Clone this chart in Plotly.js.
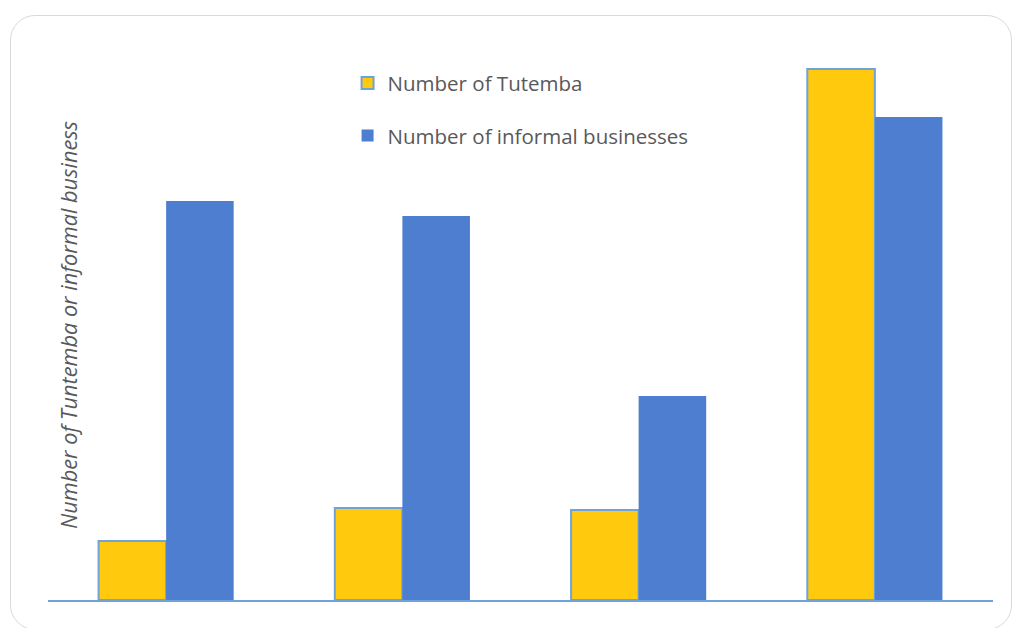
<!DOCTYPE html>
<html>
<head>
<meta charset="utf-8">
<script src="https://cdn.plot.ly/plotly-3.0.1.min.js"></script>
<style>
  html, body { margin: 0; padding: 0; background: #ffffff; }
  #wrap { position: relative; width: 1014px; height: 628px; overflow: hidden; }
  #frame { position: absolute; left: 10px; top: 15px; width: 1002px; height: 615px;
           border: 1.5px solid #d9d9d9; border-radius: 25px; box-sizing: border-box; pointer-events: none; }
  #chart { position: absolute; left: 0; top: 0; width: 1014px; height: 628px; }
</style>
</head>
<body>
<div id="wrap">
  <div id="frame"></div>
  <div id="chart"></div>
</div>
<script>
const categories = ["Area 1", "Area 2", "Area 3", "Area 4"];
const tutemba = [59, 92, 90, 531];
const informal = [399, 384, 204, 483];
const seriesNames = ["Number of Tutemba", "Number of informal businesses"];
const yTitle = "Number of Tuntemba or informal business";

const traces = [
  {
    type: "bar", name: seriesNames[0], x: categories, y: tutemba, legendgroup: "a",
    marker: { color: "#ffc90e", line: { color: "#6fa3d8", width: 2 } },
    hoverinfo: "y"
  },
  {
    type: "bar", name: seriesNames[1], x: categories, y: informal, legendgroup: "b",
    marker: { color: "#4e7ed0", line: { color: "#6fa3d8", width: 0 } },
    hoverinfo: "y"
  }
];

const layout = {
  width: 1014, height: 628,
  margin: { l: 48, r: 21, t: 30, b: 28 },
  paper_bgcolor: "rgba(0,0,0,0)",
  plot_bgcolor: "rgba(0,0,0,0)",
  barmode: "group",
  bargap: 0.428,
  bargroupgap: 0,
  font: { family: "Open Sans, sans-serif", color: "#595959" },
  xaxis: {
    showticklabels: false, ticks: "", showgrid: false, zeroline: false,
    showline: true, linecolor: "#6fa3d8", linewidth: 2
  },
  yaxis: {
    range: [0, 570], showticklabels: false, ticks: "", showgrid: false,
    zeroline: false, showline: false
  },
  annotations: [{
    text: "<i>" + yTitle + "</i>",
    xref: "paper", yref: "paper",
    x: (68 - 48) / 945, y: (600 - 325) / 570,
    xanchor: "center", yanchor: "middle",
    textangle: -90, showarrow: false,
    font: { size: 21.7, color: "#595959", family: "Open Sans, sans-serif" }
  }],
  legend: {
    x: 0.317, y: 0.942, xanchor: "left", yanchor: "top",
    font: { size: 20.5, color: "#595959" },
    bgcolor: "rgba(0,0,0,0)",
    traceorder: "grouped",
    tracegroupgap: 23, itemwidth: 30
  },
  showlegend: true
};

Plotly.newPlot("chart", traces, layout, { displayModeBar: false, staticPlot: true });
</script>
</body>
</html>
